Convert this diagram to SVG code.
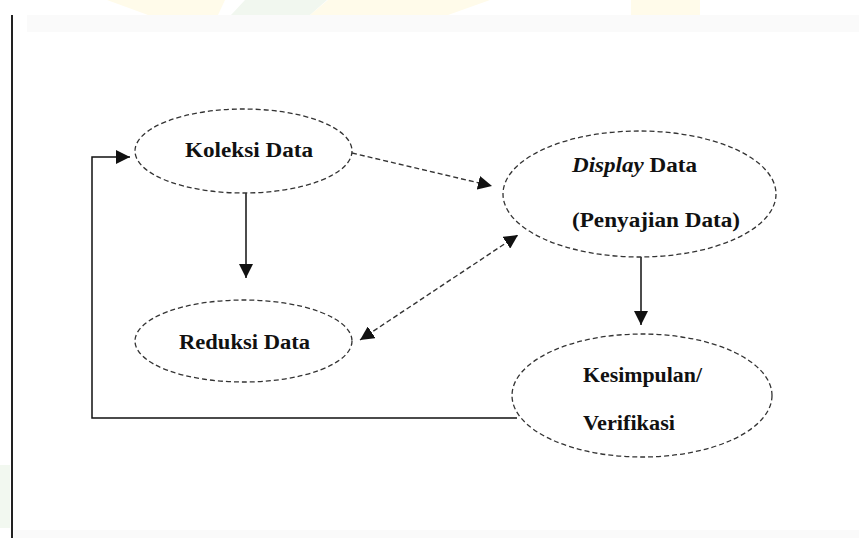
<svg xmlns="http://www.w3.org/2000/svg" width="859" height="538" viewBox="0 0 859 538">
<style>
.node ellipse{fill:none;stroke:#333;stroke-width:1.3;stroke-dasharray:5 3}
.lbl{font-family:"Liberation Serif","Times New Roman",serif;font-weight:bold;font-size:20px;fill:#111}
.solid{fill:none;stroke:#111;stroke-width:1.5}
.dash{fill:none;stroke:#333;stroke-width:1.4;stroke-dasharray:5 3}
</style>
<defs>
<marker id="ah" markerUnits="userSpaceOnUse" markerWidth="15" markerHeight="14" refX="14" refY="7" orient="auto-start-reverse">
<path d="M0,0 L14,7 L0,14 Z" fill="#111"/>
</marker>
</defs>
<rect width="859" height="538" fill="#fff"/>
<g id="background">
<polygon points="107,0 225,0 218,15 148,15" fill="#fffbea"/>
<polygon points="245,0 327,0 310,15 231,15" fill="#f1f7ef"/>
<polygon points="328,0 490,0 448,15 310,15" fill="#fffbea"/>
<rect x="631" y="0" width="69" height="15" fill="#fffbea"/>
<rect x="27" y="15" width="832" height="17" fill="#fafafa"/>
<rect x="0" y="465" width="10" height="63" fill="#f2f8f0"/>
<rect x="14" y="530" width="845" height="8" fill="#fafafa"/>
<rect x="11" y="15" width="2" height="523" fill="#222"/>
</g>
<g id="connectors">
<line class="solid" x1="246" y1="193" x2="246" y2="278" marker-end="url(#ah)"/>
<line class="dash" x1="352" y1="153" x2="492" y2="186" marker-end="url(#ah)"/>
<line class="dash" x1="360" y1="340" x2="518" y2="235" marker-start="url(#ah)" marker-end="url(#ah)"/>
<line class="solid" x1="641" y1="257" x2="641" y2="325" marker-end="url(#ah)"/>
<polyline class="solid" points="517,418 92,418 92,157 130,157" marker-end="url(#ah)"/>
</g>
<g id="koleksi" class="node">
<ellipse cx="243.5" cy="151" rx="108.5" ry="42"/>
<text class="lbl" x="185" y="157" textLength="128" lengthAdjust="spacingAndGlyphs">Koleksi Data</text>
</g>
<g id="display" class="node">
<ellipse cx="639.5" cy="194" rx="136.5" ry="63"/>
<text class="lbl" x="572" y="172" textLength="125" lengthAdjust="spacingAndGlyphs"><tspan font-style="italic">Display</tspan> Data</text>
<text class="lbl" x="572" y="227" textLength="168" lengthAdjust="spacingAndGlyphs">(Penyajian Data)</text>
</g>
<g id="reduksi" class="node">
<ellipse cx="243.5" cy="341" rx="108.5" ry="41"/>
<text class="lbl" x="179" y="349" textLength="131" lengthAdjust="spacingAndGlyphs">Reduksi Data</text>
</g>
<g id="kesimpulan" class="node">
<ellipse cx="642" cy="395.5" rx="130" ry="61.5"/>
<text class="lbl" x="583" y="382" textLength="119" lengthAdjust="spacingAndGlyphs">Kesimpulan/</text>
<text class="lbl" x="583" y="430" textLength="92" lengthAdjust="spacingAndGlyphs">Verifikasi</text>
</g>
</svg>
